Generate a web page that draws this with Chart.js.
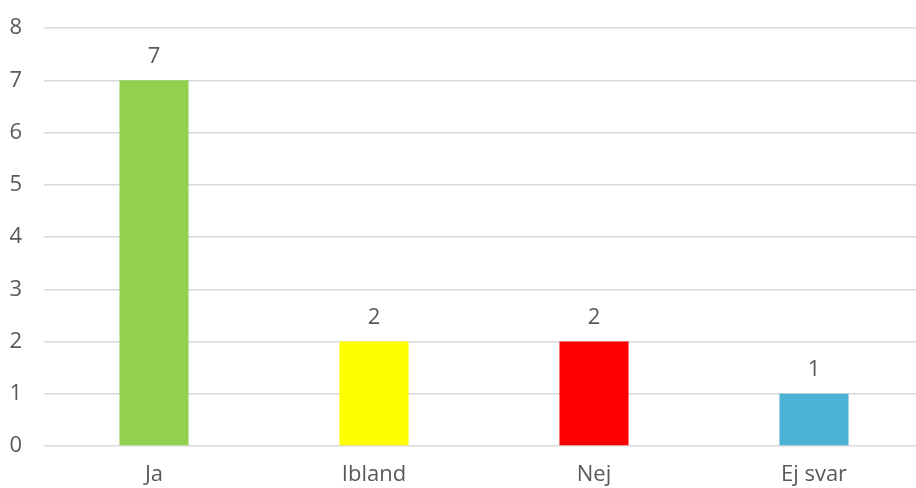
<!DOCTYPE html>
<html>
<head>
<meta charset="utf-8">
<script src="https://cdn.jsdelivr.net/npm/chart.js@4"></script>
<style>
  html, body { margin: 0; padding: 0; overflow: hidden; background: #fff; }
  #wrap { width: 924px; height: 488px; }
</style>
</head>
<body>
<div id="wrap"><canvas id="chart" width="924" height="488"></canvas></div>
<script>
const categories = ["Ja", "Ibland", "Nej", "Ej svar"];
const answers = [7, 2, 2, 1];
const barColors = ["#92d050", "#ffff00", "#ff0000", "#4bb2d3"];
const yTicks = [0, 1, 2, 3, 4, 5, 6, 7, 8];

const textColor = "#595959";
const fontFamily = "'Open Sans', 'DejaVu Sans', sans-serif";
const fontSize = 22;

// draws the number above each bar
const valueLabels = {
    id: "valueLabels",
    afterDatasetsDraw(chart) {
        const ctx = chart.ctx;
        const meta = chart.getDatasetMeta(0);
        ctx.save();
        ctx.fillStyle = textColor;
        ctx.font = fontSize + "px " + fontFamily;
        ctx.textAlign = "center";
        ctx.textBaseline = "middle";
        meta.data.forEach((bar, i) => {
            ctx.fillText(String(answers[i]), bar.x, bar.y - 24);
        });
        ctx.restore();
    }
};

new Chart(document.getElementById("chart"), {
    type: "bar",
    data: {
        labels: categories,
        datasets: [{
            data: answers,
            backgroundColor: barColors,
            categoryPercentage: 1,
            barPercentage: 0.314
        }]
    },
    options: {
        responsive: false,
        animation: false,
        layout: { padding: { top: 28, right: 0, left: 0, bottom: 0 } },
        plugins: { legend: { display: false }, tooltip: { enabled: false } },
        scales: {
            x: {
                grid: { display: false, drawTicks: false },
                border: { display: false },
                ticks: { color: textColor, font: { size: fontSize, family: fontFamily }, padding: 16 },
                afterFit(scale) {
                    scale.height = 42;
                    scale.paddingLeft = 0;
                    scale.paddingRight = 0;
                }
            },
            y: {
                min: 0,
                max: 8,
                afterBuildTicks(scale) { scale.ticks = yTicks.map(v => ({ value: v })); },
                grid: { color: "#d9d9d9", lineWidth: 1.5, drawTicks: false },
                border: { display: false },
                ticks: { color: textColor, font: { size: fontSize, family: fontFamily }, padding: 22 },
                afterFit(scale) {
                    scale.width = 44;
                    scale.paddingTop = 0;
                    scale.paddingBottom = 0;
                }
            }
        }
    },
    plugins: [valueLabels]
});
</script>
</body>
</html>
